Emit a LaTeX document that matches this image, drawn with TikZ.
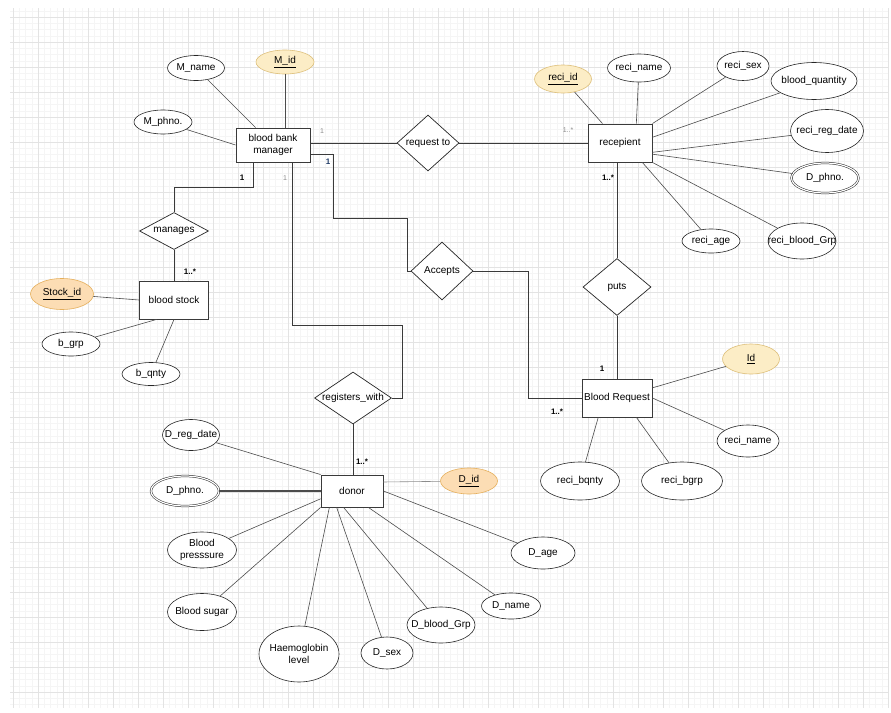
\documentclass[tikz,border=0pt]{standalone}
\usepackage{fontspec}
\setmainfont{Liberation Sans}
\usetikzlibrary{shapes.geometric}
\definecolor{GridMinor}{HTML}{F5F5F5}
\definecolor{GridMajor}{HTML}{E3E3E3}
\definecolor{KeyYellow}{HTML}{FCEDC6}
\definecolor{KeyYellowLine}{HTML}{DDBF7A}
\definecolor{KeyOrange}{HTML}{FCDDB4}
\definecolor{KeyOrangeLine}{HTML}{E5AF5C}
\definecolor{LineDark}{HTML}{3A3A3A}
\definecolor{CardNavy}{HTML}{1F3A66}

\begin{document}
\begin{tikzpicture}[x=1pt, y=-1pt,
        every label/.style={align=center, inner sep=0pt, font=\fontsize{10}{11.5}\selectfont},
        sz/.style 2 args={minimum width=#1pt, minimum height=#2pt},
        entity/.style={rectangle, draw=LineDark, line width=0.9pt, fill=white, align=center, inner sep=0pt, font=\fontsize{10}{11.5}\selectfont},
        attr/.style={ellipse, draw=black!85, line width=0.6pt, fill=white, inner sep=0pt, label={center:#1}},
        keyattr/.style={attr={\underline{#1}}, fill=KeyYellow, draw=KeyYellowLine},
        keyattrb/.style={attr={\underline{#1}}, fill=KeyOrange, draw=KeyOrangeLine},
        multi/.style={attr={#1}, double, double distance=1.2pt, line width=0.5pt},
        rel/.style={diamond, draw=black!85, line width=0.7pt, fill=white, inner sep=0pt, label={center:#1}},
        link/.style={draw=LineDark, line width=0.9pt},
        attrline/.style={draw=black!70, line width=0.6pt},
        card/.style={inner sep=1pt, font=\fontsize{8}{9}\selectfont\bfseries},
        cardlight/.style={inner sep=1pt, text=black!45, font=\fontsize{7}{8}\selectfont}]

    % page and grid
    \fill[white] (0,0) rectangle (891,712);
    \useasboundingbox (0,0) rectangle (891,712);
    \foreach \k in {0,...,140} \draw[GridMinor, line width=0.5pt] ({13+6.25*\k},8) -- ({13+6.25*\k},708);
    \foreach \k in {0,...,111} \draw[GridMinor, line width=0.5pt] (10,{10.75+6.25*\k}) -- (889,{10.75+6.25*\k});
    \foreach \k in {0,...,35} \draw[GridMajor, line width=0.6pt] ({13+25*\k},8) -- ({13+25*\k},708);
    \foreach \k in {0,...,27} \draw[GridMajor, line width=0.6pt] (10,{17+25*\k}) -- (889,{17+25*\k});

    % entities
    \node[entity, sz={74}{34}] (mgr) at (273,145) {blood bank\\manager};
    \node[entity, sz={64}{38}] (rcp) at (620,143) {recepient};
    \node[entity, sz={69}{38}] (stock) at (174,300) {blood stock};
    \node[entity, sz={70}{38}] (breq) at (617,398) {Blood Request};
    \node[entity, sz={62}{32}] (donor) at (352,491) {donor};

    % relationships
    \node[rel=request to, sz={62}{56}] (reqto) at (428,143) {};
    \node[rel=manages, sz={69}{37}] (manages) at (174,231) {};
    \node[rel=Accepts, sz={62}{58}] (accepts) at (442,271) {};
    \node[rel=puts, sz={68}{57}] (puts) at (617,287) {};
    \node[rel=registers\_with, sz={77}{52}] (regw) at (353,398) {};

    % attributes of blood bank manager
    \node[attr=M\_name, sz={57}{25}] (mname) at (196,68) {};
    \node[keyattr=M\_id, sz={58}{24}] (mid) at (285,62) {};
    \node[attr=M\_phno., sz={58}{24}] (mphno) at (163,122) {};

    % attributes of recepient
    \node[keyattr=reci\_id, sz={57}{28}] (rid) at (563,79) {};
    \node[attr=reci\_name, sz={63}{28}] (rname) at (639,68) {};
    \node[attr=reci\_sex, sz={52}{29}] (rsex) at (743,66) {};
    \node[attr=blood\_quantity, sz={86}{37}] (bqty) at (814,81) {};
    \node[attr=reci\_reg\_date, sz={73}{43}] (rregd) at (827,131) {};
    \node[multi=D\_phno., sz={67}{30}] (rphno) at (825,178) {};
    \node[attr=reci\_age, sz={58}{24}] (rage) at (711,241) {};
    \node[attr=reci\_blood\_Grp, sz={68}{36}] (rbgrp) at (802,241) {};

    % attributes of blood stock
    \node[keyattrb=Stock\_id, sz={63}{31}] (sid) at (62,294) {};
    \node[attr=b\_grp, sz={58}{24}] (bgrp) at (71,344) {};
    \node[attr=b\_qnty, sz={58}{23}] (bqnty) at (151,374) {};

    % attributes of Blood Request
    \node[keyattr=Id, sz={57}{30}] (qid) at (751,359) {};
    \node[attr=reci\_name, sz={62}{32}] (qname) at (748,441) {};
    \node[attr=reci\_bqnty, sz={79}{38}] (qbqnty) at (580,481) {};
    \node[attr=reci\_bgrp, sz={81}{38}] (qbgrp) at (682,481) {};

    % attributes of donor
    \node[attr=D\_reg\_date, sz={57}{31}] (dregd) at (191,435) {};
    \node[multi=D\_phno., sz={68}{30}] (dphno) at (185,491) {};
    \node[attr={Blood\\presssure}, sz={69}{36}] (dbp) at (202,550) {};
    \node[attr=Blood sugar, sz={69}{37}] (dbs) at (202,612) {};
    \node[attr={Haemoglobin\\level}, sz={80}{56}] (dhb) at (299,654) {};
    \node[attr=D\_sex, sz={52}{32}] (dsex) at (387,653) {};
    \node[attr=D\_blood\_Grp, sz={68}{36}] (dbg) at (441,625) {};
    \node[attr=D\_name, sz={59}{26}] (dname) at (511,606) {};
    \node[attr=D\_age, sz={64}{32}] (dage) at (543,553) {};
    \node[keyattrb=D\_id, sz={57}{26}] (did) at (469,481) {};

    % attribute lines
    \draw[attrline] (mname) -- (mgr);
    \draw[attrline] (mid.south) -- (mid.south |- mgr.north);
    \draw[attrline] (mphno) -- (mgr.west);
    \draw[attrline] (rid) -- (rcp.132);
    \draw[attrline] (rname) -- (rcp.50);
    \draw[attrline] (rsex) -- (rcp.north east);
    \draw[attrline] (bqty) -- (rcp.10);
    \draw[attrline] (rregd) -- (rcp.-16);
    \draw[attrline] (rphno) -- (rcp.-19);
    \draw[attrline] (rbgrp) -- (rcp.south east);
    \draw[attrline] (rage) -- (rcp.-41);
    \draw[attrline] (sid) -- (stock.west);
    \draw[attrline] (bgrp) -- (stock.-132);
    \draw[attrline] (bqnty) -- (stock.south);
    \draw[attrline] (qid) -- (breq.16);
    \draw[attrline] (qname) -- (breq.east);
    \draw[attrline] (qbqnty) -- (breq.-134);
    \draw[attrline] (qbgrp) -- (breq.-45);
    \draw[attrline] (dregd) -- (donor.north west);
    \draw[attrline, line width=1.1pt] (dphno) -- (donor.west);
    \draw[attrline] (dbp) -- (donor.194);
    \draw[attrline] (dbs) -- (donor.south west);
    \draw[attrline] (dhb) -- (donor.-144);
    \draw[attrline] (dsex) -- (donor.-133);
    \draw[attrline] (dbg) -- (donor.-117);
    \draw[attrline] (dname) -- (donor.-45);
    \draw[attrline] (dage) -- (donor.east);
    \draw[attrline, draw=black!45] (did) -- (donor.16);

    % relationship lines
    \draw[link] (mgr.east |- reqto.west) -- (reqto.west);
    \draw[link] (reqto.east) -- (rcp.west);
    \draw[link] ([xshift=-20pt]mgr.south) -- ++(0,25) -| (manages.north);
    \draw[link] (manages.south) -- (stock.north);
    \draw[link] ([xshift=19pt]mgr.south) -- ++(0,163) -- ++(110,0) |- (regw.east);
    \draw[link] (regw.south) -- (regw.south |- donor.north);
    \draw[link] ([yshift=-9pt]mgr.east) -- ++(23,0) -- ++(0,64) -- ++(74,0) |- (accepts.west);
    \draw[link] (accepts.east) -- ++(55,0) |- (breq.west);
    \draw[link] (puts.north |- rcp.south) -- (puts.north);
    \draw[link] (puts.south) -- (breq.north);

    % cardinalities
    \node[cardlight] (k1) at (322,131) {1};
    \node[cardlight] (k2) at (568,130) {1..*};
    \node[card] (k3) at (242,178) {1};
    \node[cardlight] (k4) at (285,178) {1};
    \node[card, text=CardNavy] (k5) at (328,162) {1};
    \node[card] (k6) at (190,272) {1..*};
    \node[card] (k7) at (608,178) {1..*};
    \node[card] (k8) at (602,369) {1};
    \node[card] (k9) at (557,412) {1..*};
    \node[card] (k10) at (362,462) {1..*};
\end{tikzpicture}
\end{document}
